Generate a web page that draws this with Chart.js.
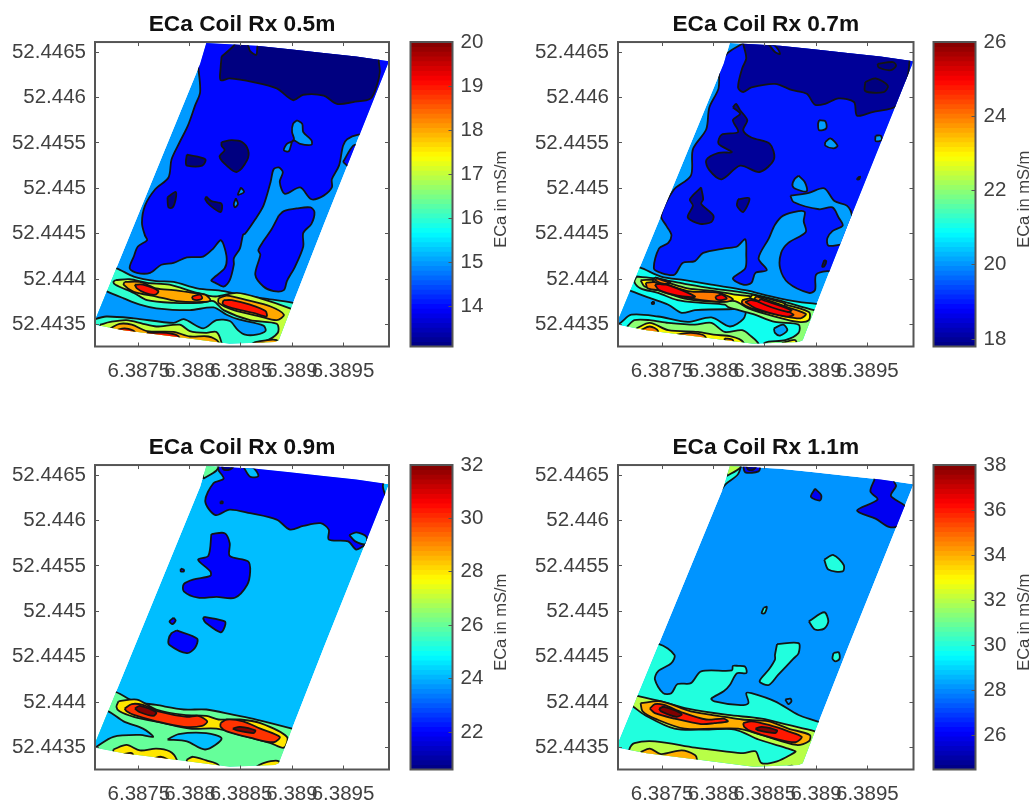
<!DOCTYPE html>
<html>
<head>
<meta charset="utf-8">
<title>ECa coil maps</title>
<script src="https://cdn.jsdelivr.net/npm/chart.js@4/dist/chart.umd.min.js"></script>
<style>
body { margin: 0; background: #fff; overflow: hidden; }
canvas { position: absolute; filter: blur(0.35px); }
</style>
</head>
<body>
<script>
// all outlines are flat x,y lists in 1e-5 degrees from 6.38 E / 52.44 N
const lonBase = 6.38;
const latBase = 52.44;

const lonTicks = [6.3875, 6.388, 6.3885, 6.389, 6.3895];
const latTicks = [52.4435, 52.444, 52.4445, 52.445, 52.4455, 52.446, 52.4465];

const fieldOutline = [816,660,865,657,898,653,931,649,963,645,995,640,931,460,901,374,887,333,883,331,839,329,784,337,735,344,707,350,707,355,741,448,810,637];

// [level in mS/m, outline], painted in order
const rx05Regions = [
  [14,[808,635,810,606,805,591,798,569,790,551,782,532,779,512,766,499,756,481,753,462,756,448,758,443,749,436,745,425,741,412,748,407,761,407,772,416,784,418,797,424,813,425,823,434,830,443,833,438,836,423,834,412,821,399,825,396,833,392,839,399,843,416,843,423,849,434,852,449,854,450,864,466,872,481,879,507,882,521,887,523,891,518,888,507,893,494,908,501,919,488,931,492,939,501,939,510,946,525,950,547,954,554,965,559,990,562,1005,650,900,668,815,668,806,640]],
  [14,[887,470,892,475,905,478,918,479,922,474,919,461,911,451,911,436,903,414,895,398,892,388,882,387,872,392,864,405,869,427,867,432,872,442,880,455]],
  [15,[905,575,910,571,911,562,919,553,919,548,908,549,901,553,897,541,892,542,895,549,902,553,900,562,901,571]],
  [15,[850,501,853,496,847,493]],
  [15,[845,489,847,483,844,479,843,483]],
  [14,[950,529,960,547,967,547,960,521]],
  [13.09,[831,645,843,657,845,662,856,659,859,651,865,647,868,660,985,660,985,640,986,628,983,613,977,599,960,595,944,593,931,602,911,603,901,597,885,610,862,617,839,621,830,619,830,632]],
  [13.09,[831,551,841,553,851,551,857,542,856,531,846,518,836,525,829,535,834,542,831,547]],
  [13.09,[797,537,815,532,812,525,797,525,796,529]],
  [13.09,[778,490,786,496,786,488,783,479,779,479]],
  [13.09,[816,491,821,486,831,483,830,474,820,481,815,488]],
  [16,[700,420,728,412,745,403,767,398,784,397,807,390,833,387,849,383,872,379,901,374,915,368,915,320,700,320]],
  [15,[702,396,718,387,735,379,751,372,767,368,800,366,823,369,836,361,847,356,872,349,874,343,865,339,854,339,847,344,839,354,826,355,813,346,794,356,784,352,745,357,718,359,707,356,702,353]],
  [17,[727,399,741,400,758,396,780,394,807,385,825,381,846,385,869,379,898,368,911,361,911,320,849,320,849,326,872,331,886,341,885,351,859,355,833,366,823,376,810,374,784,374,758,377,745,385,727,394,725,397]],
  [17,[712,350,722,353,738,355,754,351,767,348,790,350,800,343,816,341,826,342,831,330,831,320,712,320]],
  [18,[736,397,751,397,767,390,784,388,803,385,815,383,820,377,813,375,787,376,767,381,745,386,735,394]],
  [18,[828,379,836,382,856,377,879,370,892,361,885,355,869,359,843,366,828,374]],
  [18,[722,346,731,351,743,350,758,343,784,342,800,337,818,337,828,331,828,320,722,320]],
  [18,[859,328,865,331,885,333,885,320,859,320]],
  [19,[746,394,754,394,769,387,766,383,756,385,748,390]],
  [19,[802,381,810,383,812,379,807,377,803,378]],
  [19,[833,377,841,377,859,372,874,365,875,359,862,363,839,369,832,373]],
  [19,[728,344,736,346,746,342,746,328,728,328]],
  [19,[758,341,777,341,789,337,789,324,758,324]]
];

const rx07Regions = [
  [19,[828,659,813,648,806,632,805,610,796,589,793,565,780,543,778,514,761,498,749,470,754,459,759,449,756,440,747,434,742,412,749,407,762,405,770,418,782,420,790,429,811,434,823,436,831,444,832,427,831,412,819,401,829,394,837,396,841,407,852,410,844,423,854,445,860,460,868,470,883,475,889,474,888,464,890,452,873,440,866,429,865,412,873,396,893,385,899,388,900,405,911,409,935,408,1010,640,1010,668,827,668]],
  [20.1,[875,492,893,495,908,500,918,486,930,481,935,470,935,438,924,438,912,437,911,445,916,453,926,459,922,468,916,479,903,477,878,485]],
  [20.1,[883,514,889,507,891,497,881,499,877,503,879,510]],
  [20.1,[903,575,909,574,910,566,903,564,902,571]],
  [20.1,[909,551,914,555,921,547,917,544,909,547]],
  [20.1,[958,558,963,558,964,553,958,552]],
  [18,[829,659,832,643,828,632,824,611,829,606,837,611,860,615,877,608,891,604,899,592,909,593,922,599,937,595,940,580,955,584,979,591,989,621,991,639,992,668,829,668]],
  [19,[850,659,860,657,865,648,860,650,854,658]],
  [17.8,[960,637,975,639,978,635,973,630,961,633]],
  [17.8,[948,617,958,621,970,613,966,606,948,607]],
  [18,[819,589,822,593,826,586,833,575,829,564,837,556,855,549,859,532,845,518,826,525,808,510,796,520,793,531,805,539,818,540,805,549,808,559,824,562,819,575,826,582]],
  [18,[788,501,790,488,788,483,800,470,798,463,787,461,775,468,780,481,777,488]],
  [18,[824,488,835,489,829,474,823,481]],
  [18,[941,512,943,513,942,510,940,510]],
  [18,[908,421,910,420,908,414,906,414]],
  [21,[700,420,728,413,749,403,772,399,798,394,831,388,857,381,883,375,900,373,916,368,916,320,700,320]],
  [20.1,[700,396,720,387,739,379,756,372,769,363,782,366,815,367,831,366,829,356,816,348,798,358,775,353,746,359,720,361,708,351,700,350]],
  [20.1,[859,346,868,350,872,344,865,338,860,341]],
  [22,[725,403,743,401,772,395,798,390,831,385,863,377,898,366,909,364,909,320,850,320,850,330,870,333,883,341,883,350,860,353,838,362,815,369,811,372,788,374,765,377,746,385,729,390,723,397]],
  [23,[729,399,746,399,775,390,801,387,821,383,837,381,863,374,893,364,893,355,883,353,860,359,834,368,821,376,805,375,775,378,749,387,733,392]],
  [24,[734,396,746,397,775,387,805,385,819,378,811,375,778,379,752,387,736,390]],
  [24,[828,377,837,379,863,372,890,362,885,357,867,360,837,368,828,373]],
  [25,[743,394,752,395,782,381,765,382,747,388]],
  [25,[802,381,808,383,813,379,808,377,803,378]],
  [25,[831,375,837,377,860,370,878,361,870,359,841,368]],
  // tightly packed contours along the steep edge of both lobes
  [23,[743,402,758,397,752,394,741,398]],
  [24,[745,401,757,396,752,395,743,399]],
  [23,[838,383,870,373,866,370,836,379]],
  [24,[842,381,872,369,868,367,840,378]],
  [25,[846,378,876,366,872,364,844,375]],
  [18,[740,375,742,375,742,373,740,373]],
  [22,[716,348,723,355,738,355,756,352,782,350,798,352,811,342,828,344,837,337,844,329,844,320,716,320]],
  [23,[725,346,738,352,756,344,785,342,800,339,818,337,829,331,829,320,725,320]],
  [24,[729,344,738,348,746,343,744,320,729,320]],
  [24,[764,339,778,341,792,337,792,320,764,320]],
  [24,[811,335,819,333,819,320,811,320]],
  [23,[867,330,880,333,880,320,867,320]]
];

const rx09Regions = [
  [22,[828,655,833,646,823,641,815,621,825,606,839,612,859,608,885,601,898,590,911,594,928,597,936,590,936,579,955,577,963,568,972,573,980,573,1000,600,992,626,989,638,992,648,1000,668,827,668]],
  [24.15,[956,584,963,587,973,582,972,574,962,577]],
  [24.15,[852,660,862,658,867,649,859,648]],
  [20.6,[830,621,832,621,832,619,830,619]],
  [20.6,[831,660,843,660,839,656,833,656]],
  [26,[813,646,826,655,828,662,813,662]],
  [22,[821,585,834,586,839,575,839,561,857,555,859,544,856,529,844,515,826,516,808,515,794,522,794,530,803,535,820,539,820,544,808,557,818,561]],
  [22,[791,547,794,546,794,544,791,544]],
  [22,[784,493,786,490,783,486,780,489]],
  [22,[814,494,834,489,834,483,830,477,816,487,813,492]],
  [22,[787,479,807,470,805,460,797,454,780,463,779,469,782,476]],
  [26,[700,420,728,411,745,401,767,397,794,392,816,392,843,386,865,381,900,371,915,366,915,320,700,320]],
  [24.15,[702,395,720,390,735,379,754,371,764,362,751,364,725,362,707,350,702,347]],
  [24.15,[778,359,789,365,816,366,831,360,815,348,797,357]],
  [28,[730,401,748,403,767,392,794,386,816,385,828,381,849,381,869,377,895,362,892,350,879,355,849,364,826,371,800,371,774,377,745,384,731,390,728,395]],
  [30,[736,393,743,398,754,397,769,390,797,384,808,385,817,379,812,374,794,373,767,379,745,386,738,390]],
  [30,[830,377,836,381,852,379,869,371,888,362,882,356,859,361,836,368,830,373]],
  [32,[746,393,751,396,767,389,764,385,751,389]],
  [32,[842,371,849,373,864,369,862,366,846,369]],
  [28,[725,348,738,353,751,347,767,349,780,346,787,337,787,325,725,325]],
  [28,[797,337,803,340,816,336,828,331,828,320,797,320]],
  [30,[735,343,743,344,745,338,733,338]],
  [30,[764,338,772,340,779,336,764,333]],
  [28,[862,327,872,333,887,335,887,322,862,322]]
];

const rx11Regions = [
  [30,[808,634,812,640,824,651,826,664,805,664]],
  [32,[813,649,826,658,826,664,812,664]],
  [26,[829,660,845,660,844,654,831,653]],
  [24.5,[832,660,842,660,839,656,834,656]],
  [26,[899,635,905,628,904,622,895,626]],
  [26,[957,645,953,632,960,623,940,611,958,602,971,593,980,594,988,614,973,627,978,638,976,643,976,655,956,655]],
  [30,[908,557,917,562,927,551,926,544,912,546]],
  [30,[849,504,852,505,850,498,847,498]],
  [30,[893,489,908,499,912,489,908,481,899,480]],
  [30,[862,464,883,465,883,454,878,448,863,430,854,419,845,423,854,436,860,447,860,452]],
  [30,[917,454,922,455,923,448,919,445,916,448]],
  [30,[700,470,747,464,762,452,759,443,746,434,743,425,751,410,759,410,765,420,778,421,788,434,818,435,819,440,824,440,831,439,832,432,823,432,816,419,810,412,798,404,801,401,824,397,834,399,832,410,837,410,860,401,883,386,901,379,915,372,915,320,700,320]],
  [28.15,[870,403,875,404,876,401,873,398]],
  [32,[726,407,749,401,775,393,814,386,847,382,873,375,899,368,912,364,912,320,712,320,718,348,723,355,743,357,782,350,811,346,829,344,841,346,847,333,862,335,878,344,880,346,873,349,844,359,821,370,795,370,762,371,733,386,722,395,715,400]],
  [34,[729,399,749,401,778,390,811,384,828,381,854,379,873,371,894,364,893,357,881,353,847,364,824,371,772,371,743,382,731,390]],
  [36,[738,393,743,398,752,397,769,389,793,381,810,382,814,379,801,377,788,376,762,382,743,388]],
  [36,[829,377,837,379,854,375,873,368,886,362,880,356,860,360,837,368,830,373]],
  [38,[747,393,752,395,769,387,764,384,749,390]],
  [38,[841,371,847,373,862,369,860,366,844,369]],
  [34,[729,345,738,349,749,343,769,347,782,342,784,337,784,325,729,325]],
  [34,[867,327,877,330,877,320,867,320]]
];

const titles = ['ECa Coil Rx 0.5m', 'ECa Coil Rx 0.7m', 'ECa Coil Rx 0.9m', 'ECa Coil Rx 1.1m'];
const baseLevels = [15, 20.1, 24.15, 28.15];
const colorRanges = [[13.09, 20], [17.8, 26], [20.6, 32], [24.5, 38]];
const colorTicks = [
  [14, 15, 16, 17, 18, 19, 20],
  [18, 20, 22, 24, 26],
  [22, 24, 26, 28, 30, 32],
  [26, 28, 30, 32, 34, 36, 38]
];
const regionSets = [rx05Regions, rx07Regions, rx09Regions, rx11Regions];

// page layout: left/top of each canvas and the width of the plot box
const slots = [
  { left: 0, top: 0, boxW: 294, cbLeft: 400 },
  { left: 523, top: 0, boxW: 295.5, cbLeft: 923 },
  { left: 0, top: 422.5, boxW: 294, cbLeft: 400 },
  { left: 523, top: 422.5, boxW: 295.5, cbLeft: 923 }
];
const frameColor = '#555';
const textColor = '#404040';
const fontName = '"Liberation Sans", Arial, sans-serif';
const tickFont = { family: fontName, size: 20.5 };

function jet(t) {
  const c = v => Math.round(255 * Math.min(1, Math.max(0, v)));
  return `rgb(${c(1.5 - Math.abs(4 * t - 3))},${c(1.5 - Math.abs(4 * t - 2))},${c(1.5 - Math.abs(4 * t - 1))})`;
}

function toPoints(flat) {
  const pts = [];
  for (let i = 0; i < flat.length; i += 2) {
    pts.push({ x: lonBase + flat[i] / 1e5, y: latBase + flat[i + 1] / 1e5 });
  }
  pts.push(pts[0]);
  return pts;
}

function addCanvas(left, top, w, h) {
  const c = document.createElement('canvas');
  c.width = w;
  c.height = h;
  c.style.cssText = `left:${left}px;top:${top}px;width:${w}px;height:${h}px`;
  document.body.appendChild(c);
  return c;
}

const tickSetter = values => scale => { scale.ticks = values.map(v => ({ value: v })); };

// clip every contour to the surveyed field
const fieldClip = {
  id: 'fieldClip',
  beforeDatasetsDraw(chart) {
    const ctx = chart.ctx, sx = chart.scales.x, sy = chart.scales.y;
    ctx.save();
    ctx.beginPath();
    toPoints(fieldOutline).forEach(p => ctx.lineTo(sx.getPixelForValue(p.x), sy.getPixelForValue(p.y)));
    ctx.closePath();
    ctx.clip();
  },
  afterDatasetsDraw(chart) {
    chart.ctx.restore();
  }
};

const boxFrame = {
  id: 'boxFrame',
  afterDraw(chart) {
    const a = chart.chartArea, ctx = chart.ctx;
    ctx.save();
    ctx.strokeStyle = frameColor;
    ctx.lineWidth = 2;
    ctx.strokeRect(a.left, a.top, a.right - a.left, a.bottom - a.top);
    ctx.restore();
  }
};

const cbarLabel = {
  id: 'cbarLabel',
  afterDraw(chart, args, opts) {
    const a = chart.chartArea, ctx = chart.ctx;
    ctx.save();
    ctx.translate(opts.x, (a.top + a.bottom) / 2 + 5);
    ctx.rotate(-Math.PI / 2);
    ctx.font = `16.5px ${fontName}`;
    ctx.fillStyle = textColor;
    ctx.textAlign = 'center';
    ctx.textBaseline = 'middle';
    ctx.fillText(opts.text, 0, 0);
    ctx.restore();
  }
};

function drawPanel(i) {
  const slot = slots[i];
  const canvasW = 400, canvasH = slot.top ? 378 : 390;
  const range = colorRanges[i];
  const level = v => jet((v - range[0]) / (range[1] - range[0]));

  const regions = [[baseLevels[i], fieldOutline, true]].concat(regionSets[i]);
  const datasets = regions.map(r => ({
    data: toPoints(r[1]),
    showLine: true,
    pointRadius: 0,
    fill: 'shape',
    backgroundColor: level(r[0]),
    borderColor: r[2] ? 'rgba(0,0,0,0)' : '#141414',
    borderWidth: r[2] ? 0 : 1.8,
    tension: r[2] ? 0 : 0.3
  })).reverse(); // the library paints the first dataset last

  const xGrid = { drawOnChartArea: false, tickLength: -4, tickColor: frameColor, tickWidth: 1, z: 1 };
  const plain = { display: false };
  new Chart(addCanvas(slot.left, slot.top, canvasW, canvasH), {
    type: 'scatter',
    data: { datasets },
    plugins: [fieldClip, boxFrame],
    options: {
      responsive: false,
      animation: false,
      devicePixelRatio: 1,
      events: [],
      layout: { padding: { right: canvasW - 95 - slot.boxW } },
      plugins: {
        legend: plain,
        tooltip: { enabled: false },
        title: {
          display: true,
          text: titles[i],
          fullSize: false,
          color: '#111',
          font: { family: fontName, size: 22.7, weight: 'bold' },
          padding: { top: 11, bottom: 3.8 }
        }
      },
      scales: {
        x: {
          type: 'linear', position: 'bottom', min: 6.38707, max: 6.38995,
          afterBuildTicks: tickSetter(lonTicks),
          afterFit: s => { s.height = canvasH - 346.5; },
          border: plain, grid: xGrid,
          ticks: { autoSkip: false, maxRotation: 0, minRotation: 0, padding: 17, color: textColor, font: tickFont, callback: v => String(v) }
        },
        y: {
          type: 'linear', position: 'left', min: 52.44326, max: 52.44661,
          afterBuildTicks: tickSetter(latTicks),
          afterFit: s => { s.width = 95; },
          border: plain, grid: xGrid,
          ticks: { autoSkip: false, padding: 13, color: textColor, font: tickFont, callback: v => String(v) }
        },
        x2: {
          type: 'linear', position: 'top', min: 6.38707, max: 6.38995,
          afterBuildTicks: tickSetter(lonTicks),
          afterFit: s => { s.height = 0; },
          border: plain, grid: xGrid, ticks: plain
        },
        y2: {
          type: 'linear', position: 'right', min: 52.44326, max: 52.44661,
          afterBuildTicks: tickSetter(latTicks),
          afterFit: s => { s.width = 0; },
          border: plain, grid: xGrid, ticks: plain
        }
      }
    }
  });
  drawColorbar(i, slot, canvasH);
}

function drawColorbar(i, slot, canvasH) {
  const range = colorRanges[i];
  const steps = 64, w = Math.min(1033 - slot.cbLeft, 122);
  const bands = [];
  // each band runs up to the top and the next one paints over it, so no seams show
  for (let k = steps - 1; k >= 0; k--) {
    bands.push({
      data: [[range[0] + (range[1] - range[0]) * k / steps, range[1]]],
      backgroundColor: jet((k + 0.5) / steps),
      borderWidth: 0,
      barPercentage: 1,
      categoryPercentage: 1,
      grouped: false
    });
  }
  new Chart(addCanvas(slot.cbLeft, slot.top, w, canvasH), {
    type: 'bar',
    data: { labels: [''], datasets: bands },
    plugins: [boxFrame, cbarLabel],
    options: {
      responsive: false,
      animation: false,
      devicePixelRatio: 1,
      events: [],
      layout: { padding: { left: 10.5, top: 42, bottom: canvasH - 346.5 } },
      plugins: {
        legend: { display: false },
        tooltip: { enabled: false },
        cbarLabel: { text: 'ECa in mS/m', x: 1024 - 923 }
      },
      scales: {
        x: { display: false },
        y: {
          position: 'right', min: range[0], max: range[1],
          afterBuildTicks: tickSetter(colorTicks[i]),
          afterFit: s => { s.width = w - 10.5 - 42; },
          border: { display: false },
          grid: { drawOnChartArea: false, tickLength: -4, tickColor: frameColor, tickWidth: 1, z: 1 },
          ticks: { autoSkip: false, padding: 12, color: textColor, font: tickFont, callback: v => String(v) }
        }
      }
    }
  });
}

[0, 1, 2, 3].forEach(drawPanel);
</script>
</body>
</html>
